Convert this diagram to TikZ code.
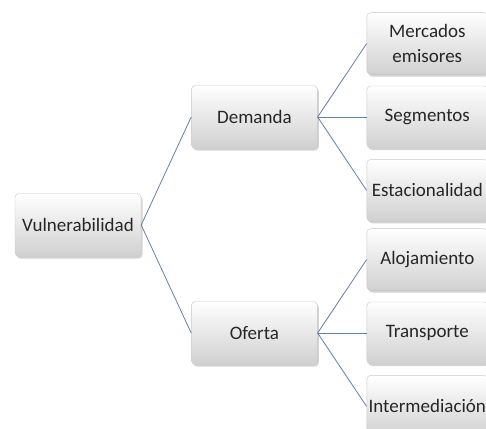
\documentclass[tikz,border=0pt]{standalone}
\usepackage{fontspec}
\setmainfont{Carlito}
\usepackage{tikz}
\usetikzlibrary{positioning, shadows}
\definecolor{linkblue}{RGB}{98,128,170}
\definecolor{boxline}{RGB}{200,200,200}
\definecolor{boxbottom}{RGB}{208,208,208}
\tikzstyle{box1} = [rectangle, rounded corners=4pt, draw=boxline, top color=white, bottom color=boxbottom, align=center, inner sep=1pt, text=black!85, minimum height=63pt, minimum width=126pt, font=\fontsize{19}{25}\selectfont, drop shadow={opacity=0.35, shadow xshift=1.5pt, shadow yshift=-2pt}]
\tikzstyle{box2} = [box1, minimum height=62pt, minimum width=121pt]
\tikzstyle{link} = [linkblue, line width=0.8pt]

\begin{document}
\begin{tikzpicture}[x=1pt, y=1pt]
\useasboundingbox (0,0) rectangle (486,-428);

\node(V)[box1] at (78,-225) {Vulnerabilidad};
\node(D)[box1, right = 50pt of V, yshift=108pt] {Demanda};
\node(O)[box1, right = 50pt of V, yshift=-108pt] {Oferta};

\node(S)[box2, right = 49pt of D] {Segmentos};
\node(M)[box2, above = 11pt of S] {Mercados\\emisores};
\node(E)[box2, below = 11pt of S] {Estacionalidad};

\node(T)[box2, right = 49pt of O] {Transporte};
\node(A)[box2, above = 11pt of T] {Alojamiento};
\node(I)[box2, below = 11pt of T] {Intermediación};

\draw [link] (V.east) -- (D.west);
\draw [link] (V.east) -- (O.west);
\draw [link] (D.east) -- (M.west);
\draw [link] (D.east) -- (S.west);
\draw [link] (D.east) -- (E.west);
\draw [link] (O.east) -- (A.west);
\draw [link] (O.east) -- (T.west);
\draw [link] (O.east) -- (I.west);

\end{tikzpicture}
\end{document}
